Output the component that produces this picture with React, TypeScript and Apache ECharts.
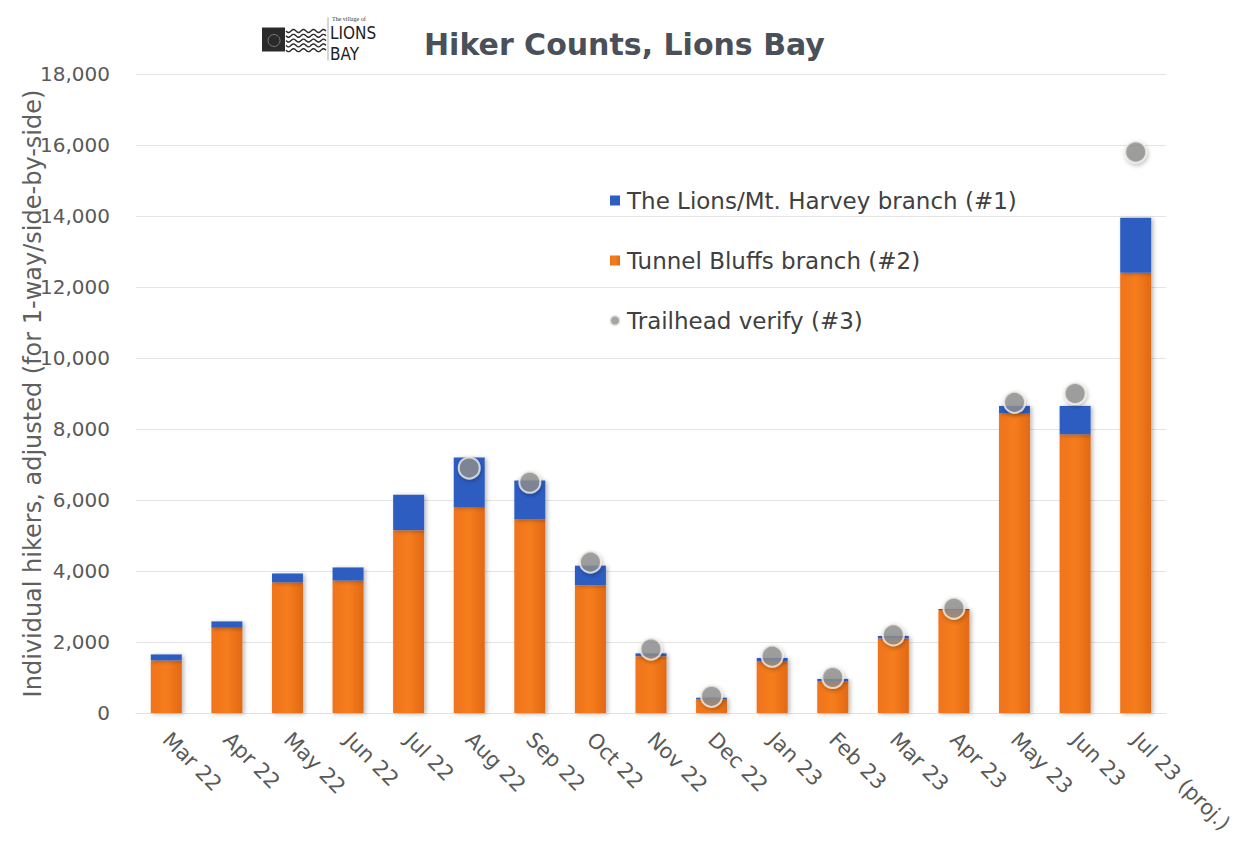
import React, { useEffect, useRef } from "react";
import * as echarts from "echarts";

const categories = [
  "Mar 22", "Apr 22", "May 22", "Jun 22", "Jul 22", "Aug 22", "Sep 22", "Oct 22",
  "Nov 22", "Dec 22", "Jan 23", "Feb 23", "Mar 23", "Apr 23", "May 23", "Jun 23", "Jul 23 (proj.)",
];
const tunnelBluffs = [1480, 2400, 3680, 3730, 5150, 5800, 5450, 3600, 1600, 380, 1450, 900, 2100, 2900, 8450, 7850, 12400];
const lionsHarvey = [170, 180, 250, 370, 1000, 1400, 1100, 550, 80, 50, 100, 60, 70, 30, 200, 800, 1550];
const trailhead: (number | null)[] = [null, null, null, null, null, 6900, 6500, 4250, 1800, 470, 1600, 1000, 2200, 2950, 8750, 9000, 15800];

const NAME_1 = "The Lions/Mt. Harvey branch (#1)";
const NAME_2 = "Tunnel Bluffs branch (#2)";
const NAME_3 = "Trailhead verify (#3)";
const TITLE = "Hiker Counts, Lions Bay";
const Y_NAME = "Individual hikers, adjusted (for 1-way/side-by-side)";

function wavePoints(x0: number, x1: number, y: number, amp: number, period: number) {
  const pts: number[][] = [];
  for (let x = x0; x <= x1; x += 1) {
    pts.push([x, y + amp * Math.sin(((x - x0) / period) * Math.PI * 2)]);
  }
  return pts;
}

export default function App() {
  const ref = useRef<HTMLDivElement>(null);
  useEffect(() => {
    if (!ref.current) return;
    const chart = echarts.init(ref.current, null, { renderer: "svg" });
    const font = "'DejaVu Sans', Verdana, sans-serif";
    const narrow = "'DejaVu Sans Condensed', 'Liberation Sans Narrow', sans-serif";
    const waves: any[] = [];
    for (let i = 0; i < 5; i++) {
      waves.push({
        type: "polyline",
        shape: { points: wavePoints(286, 326, 31 + i * 4.8, 1.5, 10) },
        style: { stroke: "#2b2b2b", lineWidth: 1.4, fill: null },
      });
    }
    chart.setOption({
      animation: false,
      backgroundColor: "#ffffff",
      textStyle: { fontFamily: font },
      grid: { left: 136, right: 72, top: 74, bottom: 137, containLabel: false },
      legend: {
        orient: "vertical",
        left: 604,
        top: 184,
        itemWidth: 10,
        itemHeight: 10,
        itemGap: 37,
        textStyle: { fontSize: 23, color: "#404040", fontFamily: font, padding: [0, 0, 0, 2] },
        data: [
          { name: NAME_1, icon: "rect" },
          { name: NAME_2, icon: "rect" },
          { name: NAME_3, icon: "circle" },
        ],
      },
      xAxis: {
        type: "category",
        data: categories,
        axisTick: { show: false },
        axisLine: { show: true, lineStyle: { color: "#e2e2e2", width: 1 } },
        axisLabel: {
          rotate: -45,
          interval: 0,
          margin: 23,
          fontSize: 21,
          color: "#595959",
          fontFamily: font,
        },
      },
      yAxis: {
        type: "value",
        min: 0,
        max: 18000,
        interval: 2000,
        name: Y_NAME,
        nameLocation: "middle",
        nameGap: 91,
        nameMoveOverlap: false,
        nameTextStyle: { fontSize: 24, color: "#5f5f5f", fontFamily: font },
        axisLine: { show: false },
        axisTick: { show: false },
        splitLine: { lineStyle: { color: "#e4e4e4", width: 1 } },
        axisLabel: {
          margin: 26,
          fontSize: 20,
          color: "#595959",
          fontFamily: font,
          formatter: (v: number) => v.toLocaleString("en-US"),
        },
      },
      series: [
        {
          name: NAME_2,
          type: "bar",
          stack: "total",
          barWidth: 31,
          data: tunnelBluffs,
          itemStyle: {
            color: {
              type: "linear", x: 0, y: 0, x2: 1, y2: 0,
              colorStops: [
                { offset: 0, color: "#ef731b" },
                { offset: 0.5, color: "#f67d1e" },
                { offset: 1, color: "#e26912" },
              ],
            },
            shadowColor: "rgba(0,0,0,0.28)",
            shadowBlur: 4,
            shadowOffsetX: 2,
            shadowOffsetY: 1,
          },
        },
        {
          name: NAME_1,
          type: "bar",
          stack: "total",
          barWidth: 31,
          data: lionsHarvey,
          itemStyle: {
            color: "#2f5dc2",
            shadowColor: "rgba(0,0,0,0.28)",
            shadowBlur: 4,
            shadowOffsetX: 2,
            shadowOffsetY: 1,
          },
        },
        {
          name: NAME_3,
          type: "scatter",
          data: trailhead,
          symbol: "circle",
          symbolSize: 21,
          z: 5,
          itemStyle: {
            color: "#8f8f8f",
            borderColor: "#f1ede6",
            borderWidth: 2,
            shadowColor: "rgba(0,0,0,0.3)",
            shadowBlur: 4,
            shadowOffsetX: 1,
            shadowOffsetY: 2,
          },
        },
      ],
      graphic: [
        {
          type: "text",
          left: 424,
          top: 29,
          style: {
            text: TITLE,
            font: `bold 30px ${font}`,
            fill: "#4a5059",
          },
        },
        {
          type: "group",
          left: 262,
          top: 15,
          children: [
            { type: "rect", shape: { x: 0, y: 12, width: 23, height: 24 }, style: { fill: "#2a2a2a" } },
            { type: "circle", shape: { cx: 12, cy: 25, r: 6 }, style: { fill: "none", stroke: "#777", lineWidth: 1 } },
            { type: "line", shape: { x1: 66, y1: 2, x2: 66, y2: 45 }, style: { stroke: "#999", lineWidth: 0.8 } },
            { type: "text", x: 70, y: 0, style: { text: "The village of", font: "6px 'Liberation Serif', serif", lineHeight: 7, fill: "#333" } },
            { type: "text", x: 68, y: 9, style: { text: "LIONS", font: `17px ${narrow}`, lineHeight: 17, fill: "#222" } },
            { type: "text", x: 68, y: 30, style: { text: "BAY", font: `17px ${narrow}`, lineHeight: 17, fill: "#222" } },
          ],
        },
        ...waves,
      ],
    });
    return () => chart.dispose();
  }, []);
  return (
    <div
      ref={ref}
      style={{ position: "absolute", left: 0, top: 0, width: 1238, height: 850, background: "#fff" }}
    />
  );
}
